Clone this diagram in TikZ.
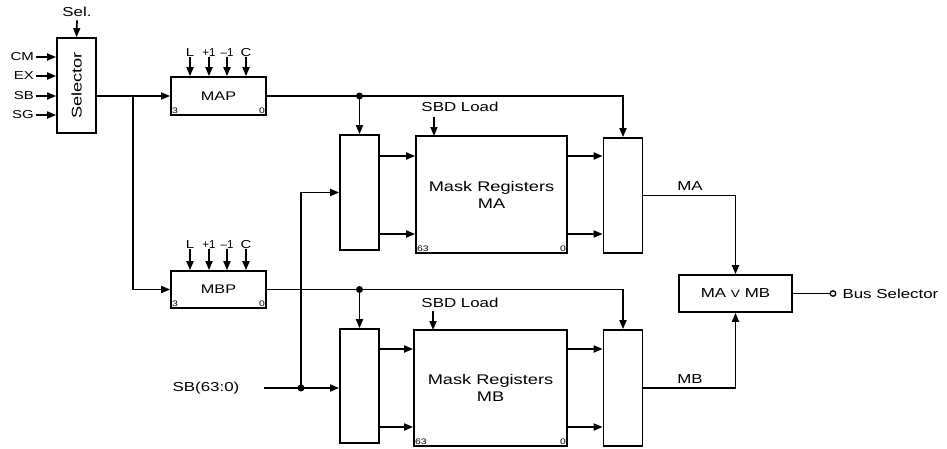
\documentclass[tikz,border=0pt]{standalone}
\usepackage{fontspec}
\setmainfont[FakeStretch=1.3]{Liberation Sans}
\newfontfamily\narrowf{Liberation Sans}
\usetikzlibrary{arrows.meta}
\begin{document}
\begin{tikzpicture}[x=1pt,y=-1pt,
  every node/.style={font=\fontsize{13}{15}\selectfont},
  small/.style={font=\fontsize{11.5}{13}\selectfont},
  tiny/.style={font=\fontsize{8}{9}\selectfont, inner sep=1.8pt},
  big/.style={font=\fontsize{14}{17}\selectfont, align=center},
  box/.style={draw, line width=1.7pt, inner sep=0pt},
  wire/.style={line width=1.7pt},
  arr/.style={line width=1.7pt, -{Triangle[length=9pt,width=7pt]}},
  dot/.style={circle, fill, inner sep=0pt, minimum size=7pt}]
\useasboundingbox (0,0) rectangle (947,448);

% Selector
\node[box, minimum width=39pt, minimum height=95pt] (sel) at (76.5,85.5) {};
\node[rotate=90, font=\fontsize{14}{16}\selectfont] (seltxt) at (sel.center) {Selector};
\node (sellbl) at (77,12) {Sel.};
\draw[arr] (sellbl.south) -- (sel.north);
\foreach \y/\t/\n in {57/CM/cm,76/EX/ex,96/SB/sb,115/SG/sg}{
  \node[small, anchor=east, inner sep=2pt] (l\n) at (36,\y) {\t};
  \draw[arr] (l\n.east) -- (sel.west |- l\n.east);
}

% MAP / MBP
\node[box, minimum width=95pt, minimum height=38pt, font=\fontsize{12.5}{14}\selectfont] (map) at (218.5,96) {MAP};
\node[box, minimum width=95pt, minimum height=37pt, font=\fontsize{12.5}{14}\selectfont] (mbp) at (218.5,289.5) {MBP};
\node[tiny, anchor=south west] (map3) at (map.south west) {3};
\node[tiny, anchor=south east] (map0) at (map.south east) {0};
\node[tiny, anchor=south west] (mbp3) at (mbp.south west) {3};
\node[tiny, anchor=south east] (mbp0) at (mbp.south east) {0};
\foreach \x/\t/\n in {190/L/a,209/{\narrowf +1}/b,227/{\narrowf –1}/c,246/C/d}{
  \node[small, anchor=base, inner sep=1pt] (mapin\n) at (\x,56) {\t};
  \draw[arr] (mapin\n.south) -- (mapin\n.south |- map.north);
  \node[small, anchor=base, inner sep=1pt] (mbpin\n) at (\x,248) {\t};
  \draw[arr] (mbpin\n.south) -- (mbpin\n.south |- mbp.north);
}
\draw[arr] (sel.east |- map.west) -- (map.west);
\coordinate (br) at (133,96);
\draw[arr] (br) |- (mbp.west);

% MA section
\node[box, minimum width=39pt, minimum height=115pt] (muxa1) at (359.5,192.5) {};
\node[box, minimum width=151pt, minimum height=117pt] (ma) at (491.5,194.5) {};
\node[big] (matxt) at (ma.center) {Mask Registers\\MA};
\node[tiny, anchor=south west] (ma63) at (ma.south west) {63};
\node[tiny, anchor=south east] (ma0) at (ma.south east) {0};
\node[box, minimum width=39pt, minimum height=115pt] (muxa2) at (623,195.5) {};
\node (sbda) at (460,107) {SBD Load};
\draw[arr] (434,117) -- (434,136);
\foreach \y in {156,234}{
  \draw[arr] (muxa1.east |- 0,\y) -- (ma.west |- 0,\y);
  \draw[arr] (ma.east |- 0,\y) -- (muxa2.west |- 0,\y);
}

% MB section
\node[box, minimum width=39pt, minimum height=114pt] (muxb1) at (359.5,386) {};
\node[box, minimum width=153pt, minimum height=116pt] (mb) at (490.5,388) {};
\node[big] (mbtxt) at (mb.center) {Mask Registers\\MB};
\node[tiny, anchor=south west] (mb63) at (mb.south west) {63};
\node[tiny, anchor=south east] (mb0) at (mb.south east) {0};
\node[box, minimum width=39pt, minimum height=116pt] (muxb2) at (623,388) {};
\node (sbdb) at (460,303) {SBD Load};
\draw[arr] (433,311) -- (433,330);
\foreach \y in {349,427}{
  \draw[arr] (muxb1.east |- 0,\y) -- (mb.west |- 0,\y);
  \draw[arr] (mb.east |- 0,\y) -- (muxb2.west |- 0,\y);
}

% pointer buses
\node[dot] (da) at (359.5,96) {};
\draw[wire] (map.east) -- (da.center);
\draw[arr] (da.center) -- (muxa1.north);
\draw[arr] (da.center) -| (muxa2.north);
\node[dot] (db) at (359.5,289.5) {};
\draw[wire] (mbp.east) -- (db.center);
\draw[arr] (db.center) -- (muxb1.north);
\draw[arr] (db.center) -| (muxb2.north);

% SB input
\node (sblbl) at (206,388) {SB(63:0)};
\coordinate (sbin) at (264,388);
\node[dot] (dsb) at (301,388) {};
\draw[arr] (sbin) -- (muxb1.west |- sbin);
\draw[arr] (dsb.center) |- (muxa1.west);

% OR
\node[box, minimum width=113pt, minimum height=37pt] (mavb) at (735.5,293.5) {MA {\fontsize{10.5}{12}\selectfont V} MB};
\draw[arr] (muxa2.east) -| (mavb.north);
\draw[arr] (muxb2.east) -| (mavb.south);
\node (lma) at (690,186) {MA};
\node (lmb) at (690,379) {MB};
\node[draw, circle, inner sep=0pt, minimum size=5.5pt, line width=1.3pt] (bus) at (833,293.5) {};
\draw[wire] (mavb.east) -- (bus);
\node[anchor=west] (buslbl) at (839,293.5) {Bus Selector};
\end{tikzpicture}
\end{document}
